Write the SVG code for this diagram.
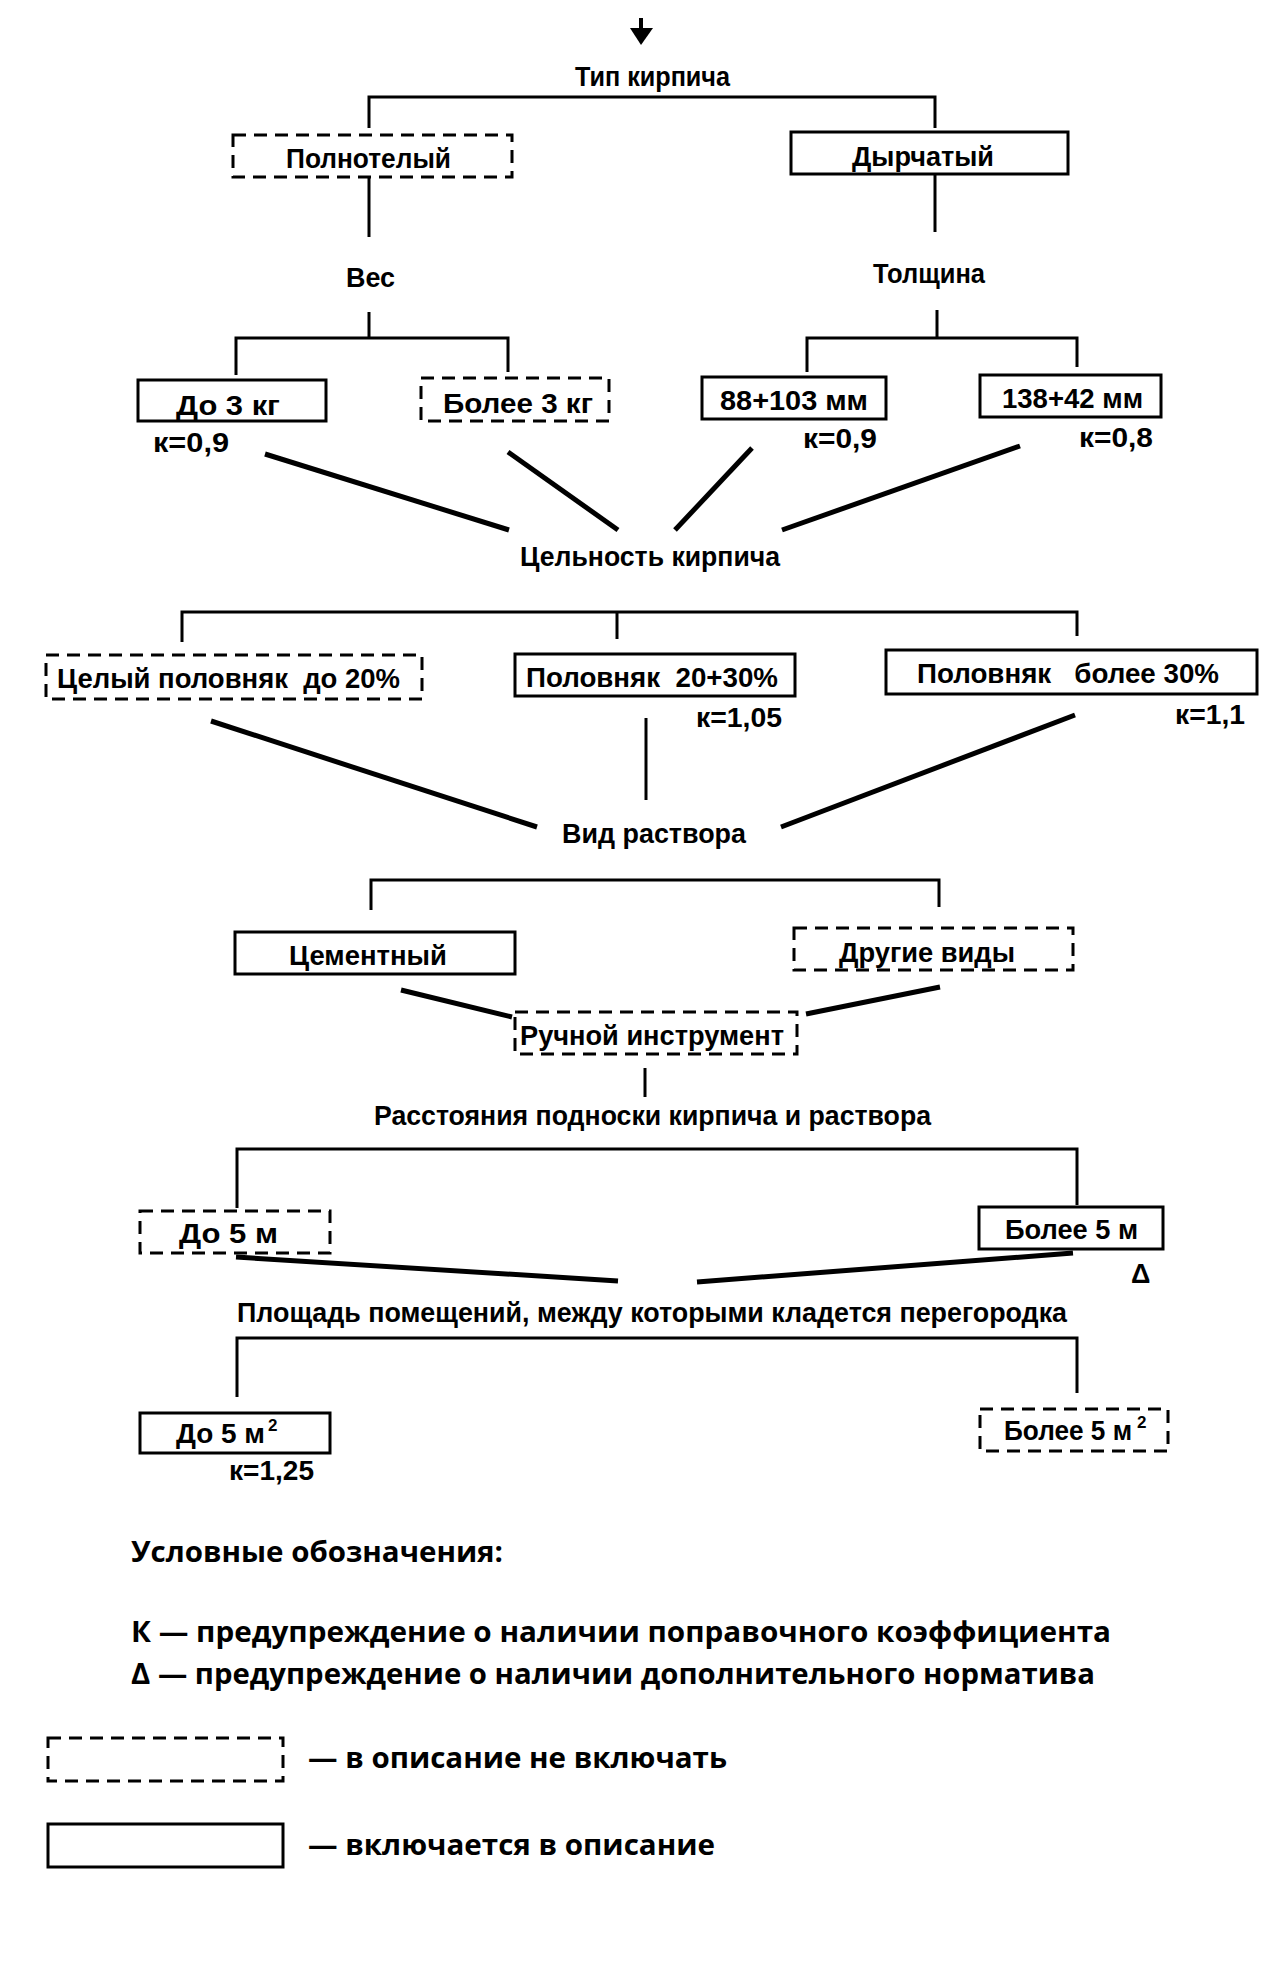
<svg xmlns="http://www.w3.org/2000/svg" width="1280" height="1980" viewBox="0 0 1280 1980">
<style>
.bx{fill:#fff;stroke:#000;stroke-width:3}
.ds{fill:#fff;stroke:#000;stroke-width:3;stroke-dasharray:13 8}
.br{fill:none;stroke:#000;stroke-width:3}
.dg{fill:none;stroke:#000;stroke-width:5;stroke-linecap:butt}
text{white-space:pre}
.t{font-family:"Liberation Sans Narrow","Liberation Sans",Arial,sans-serif;font-weight:bold;font-size:28px;fill:#000}
.k{font-family:"Liberation Sans Narrow","Liberation Sans",Arial,sans-serif;font-weight:bold;font-size:27px;fill:#000}
.sup{font-family:"Liberation Sans",Arial,sans-serif;font-weight:bold;font-size:17px;fill:#000}
.lg{font-family:"Open Sans","Noto Sans",sans-serif;font-weight:bold;font-size:29px;fill:#000}
</style>
<rect width="1280" height="1980" fill="#fff"/>
<g id="connectors">
<line x1="641" y1="18" x2="641" y2="30" stroke="#000" stroke-width="4"/>
<polygon points="630,28 653,28 641,45" fill="#000"/>
<polyline class="br" points="369,128 369,97 935,97 935,128"/>
<line class="br" x1="369" y1="178" x2="369" y2="237"/>
<line class="br" x1="935" y1="175" x2="935" y2="232"/>
<polyline class="br" points="369,312 369,338"/>
<polyline class="br" points="236,375 236,338 508,338 508,372"/>
<polyline class="br" points="937,310 937,338"/>
<polyline class="br" points="807,372 807,338 1077,338 1077,367"/>
<line class="dg" x1="265" y1="454" x2="509" y2="530"/>
<line class="dg" x1="508" y1="452" x2="618" y2="530"/>
<line class="dg" x1="752" y1="448" x2="675" y2="530"/>
<line class="dg" x1="1020" y1="446" x2="782" y2="530"/>
<polyline class="br" points="182,642 182,612 1077,612 1077,636"/>
<line class="br" x1="617" y1="612" x2="617" y2="639"/>
<line class="dg" x1="211" y1="721" x2="537" y2="827"/>
<line class="br" x1="646" y1="718" x2="646" y2="800"/>
<line class="dg" x1="1075" y1="715" x2="781" y2="827"/>
<polyline class="br" points="371,910 371,880 939,880 939,907"/>
<line class="dg" x1="401" y1="990" x2="512" y2="1017"/>
<line class="dg" x1="940" y1="987" x2="806" y2="1014"/>
<line class="br" x1="645" y1="1068" x2="645" y2="1097"/>
<polyline class="br" points="237,1208 237,1149 1077,1149 1077,1205"/>
<line class="dg" x1="236" y1="1257" x2="618" y2="1281"/>
<line class="dg" x1="1073" y1="1253" x2="697" y2="1282"/>
<polyline class="br" points="237,1397 237,1338 1077,1338 1077,1393"/>
</g>
<g id="n-tip"><text class="t" x="575" y="86" textLength="155" lengthAdjust="spacingAndGlyphs">Тип кирпича</text></g>
<g id="n-polnotelyi"><rect class="ds" x="233" y="135" width="279" height="42"/><text class="t" x="286" y="168" textLength="165" lengthAdjust="spacingAndGlyphs">Полнотелый</text></g>
<g id="n-dyrchatyi"><rect class="bx" x="791" y="132" width="277" height="42"/><text class="t" x="852" y="166" textLength="142" lengthAdjust="spacingAndGlyphs">Дырчатый</text></g>
<g id="n-ves"><text class="t" x="346" y="287" textLength="49" lengthAdjust="spacingAndGlyphs">Вес</text></g>
<g id="n-tolshchina"><text class="t" x="873" y="283" textLength="112" lengthAdjust="spacingAndGlyphs">Толщина</text></g>
<g id="n-do3kg"><rect class="bx" x="138" y="380" width="188" height="41"/><text class="t" x="176" y="415" textLength="104" lengthAdjust="spacingAndGlyphs">До 3 кг</text><text class="k" x="153" y="452" textLength="76" lengthAdjust="spacingAndGlyphs">к=0,9</text></g>
<g id="n-bolee3kg"><rect class="ds" x="421" y="378" width="188" height="43"/><text class="t" x="443" y="413" textLength="150" lengthAdjust="spacingAndGlyphs">Более 3 кг</text></g>
<g id="n-88-103"><rect class="bx" x="702" y="377" width="184" height="42"/><text class="t" x="720" y="410" textLength="148" lengthAdjust="spacingAndGlyphs">88+103 мм</text><text class="k" x="803" y="448" textLength="74" lengthAdjust="spacingAndGlyphs">к=0,9</text></g>
<g id="n-138-42"><rect class="bx" x="980" y="375" width="181" height="42"/><text class="t" x="1002" y="408" textLength="141" lengthAdjust="spacingAndGlyphs">138+42 мм</text><text class="k" x="1079" y="447" textLength="74" lengthAdjust="spacingAndGlyphs">к=0,8</text></g>
<g id="n-celnost"><text class="t" x="520" y="566" textLength="260" lengthAdjust="spacingAndGlyphs">Цельность кирпича</text></g>
<g id="n-celyi"><rect class="ds" x="46" y="655" width="376" height="44"/><text class="t" x="57" y="688" textLength="343" lengthAdjust="spacingAndGlyphs">Целый половняк  до 20%</text></g>
<g id="n-polovnyak2030"><rect class="bx" x="515" y="654" width="280" height="42"/><text class="t" x="526" y="687" textLength="252" lengthAdjust="spacingAndGlyphs">Половняк  20+30%</text><text class="k" x="696" y="727" textLength="86" lengthAdjust="spacingAndGlyphs">к=1,05</text></g>
<g id="n-polovnyak30"><rect class="bx" x="886" y="650" width="371" height="44"/><text class="t" x="917" y="683" textLength="302" lengthAdjust="spacingAndGlyphs">Половняк   более 30%</text><text class="k" x="1175" y="724" textLength="70" lengthAdjust="spacingAndGlyphs">к=1,1</text></g>
<g id="n-vid"><text class="t" x="562" y="843" textLength="184" lengthAdjust="spacingAndGlyphs">Вид раствора</text></g>
<g id="n-cementnyi"><rect class="bx" x="235" y="932" width="280" height="42"/><text class="t" x="289" y="965" textLength="158" lengthAdjust="spacingAndGlyphs">Цементный</text></g>
<g id="n-drugie"><rect class="ds" x="794" y="928" width="279" height="42"/><text class="t" x="839" y="962" textLength="176" lengthAdjust="spacingAndGlyphs">Другие виды</text></g>
<g id="n-ruchnoi"><rect class="ds" x="515" y="1012" width="282" height="42"/><text class="t" x="520" y="1045" textLength="264" lengthAdjust="spacingAndGlyphs">Ручной инструмент</text></g>
<g id="n-rasstoyaniya"><text class="t" x="374" y="1125" textLength="557" lengthAdjust="spacingAndGlyphs">Расстояния подноски кирпича и раствора</text></g>
<g id="n-do5m"><rect class="ds" x="140" y="1211" width="190" height="42"/><text class="t" x="179" y="1243" textLength="99" lengthAdjust="spacingAndGlyphs">До 5 м</text></g>
<g id="n-bolee5m"><rect class="bx" x="979" y="1207" width="184" height="42"/><text class="t" x="1005" y="1239" textLength="133" lengthAdjust="spacingAndGlyphs">Более 5 м</text><text class="k" x="1131" y="1283">Δ</text></g>
<g id="n-ploshchad"><text class="t" x="237" y="1322" textLength="830" lengthAdjust="spacingAndGlyphs">Площадь помещений, между которыми кладется перегородка</text></g>
<g id="n-do5m2"><rect class="bx" x="140" y="1413" width="190" height="40"/><text class="t" x="176" y="1443" textLength="89" lengthAdjust="spacingAndGlyphs">До 5 м</text><text class="sup" x="268" y="1431">2</text><text class="k" x="229" y="1480" textLength="85" lengthAdjust="spacingAndGlyphs">к=1,25</text></g>
<g id="n-bolee5m2"><rect class="ds" x="980" y="1409" width="188" height="42"/><text class="t" x="1004" y="1440" textLength="128" lengthAdjust="spacingAndGlyphs">Более 5 м</text><text class="sup" x="1137" y="1428">2</text></g>
<g id="legend">
<text class="lg" x="131" y="1562" textLength="372" lengthAdjust="spacingAndGlyphs">Условные обозначения:</text>
<text class="lg" x="131" y="1642" textLength="980" lengthAdjust="spacingAndGlyphs">К — предупреждение о наличии поправочного коэффициента</text>
<text class="lg" x="131" y="1684" textLength="964" lengthAdjust="spacingAndGlyphs">Δ — предупреждение о наличии дополнительного норматива</text>
<rect class="ds" x="48" y="1738" width="235" height="43"/>
<text class="lg" x="308" y="1768" textLength="419" lengthAdjust="spacingAndGlyphs">— в описание не включать</text>
<rect class="bx" x="48" y="1824" width="235" height="43"/>
<text class="lg" x="308" y="1855" textLength="407" lengthAdjust="spacingAndGlyphs">— включается в описание</text>
</g>
</svg>
